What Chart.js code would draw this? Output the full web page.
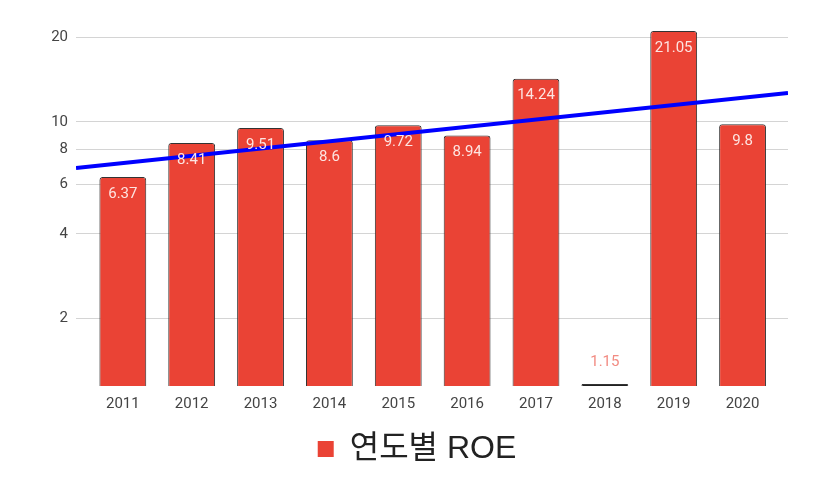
<!DOCTYPE html>
<html>
<head>
<meta charset="utf-8">
<script src="https://cdn.jsdelivr.net/npm/chart.js@4"></script>
<style>
  html, body { margin: 0; padding: 0; background: #fff; }
  #wrap { width: 834px; height: 486px; }
</style>
</head>
<body>
<div id="wrap"><canvas id="roeChart"></canvas></div>
<script>
// 연도별 ROE data
const years = ["2011", "2012", "2013", "2014", "2015", "2016", "2017", "2018", "2019", "2020"]
const roe = [6.37, 8.41, 9.51, 8.6, 9.72, 8.94, 14.24, 1.15, 21.05, 9.8]
const yTicks = [2, 4, 6, 8, 10, 20]
// trendline read at the left and right edges of the plot
const trendX = [-0.68, 9.66]
const trendY = [6.85, 12.66]

const barColor = "#ea4335"
const yMin = Math.min(...roe)
const yMax = Math.max(...roe)

// value labels drawn on the bars
const barLabels = {
  id: "barLabels",
  afterDatasetsDraw(chart) {
    const meta = chart.getDatasetMeta(0)
    const ctx = chart.ctx
    ctx.save()
    ctx.font = "15px Roboto"
    ctx.textAlign = "center"
    ctx.textBaseline = "middle"
    meta.data.forEach((bar, i) => {
      const h = bar.base - bar.y
      if (h > 30) {
        ctx.fillStyle = "#fde4e1"
        ctx.fillText(String(roe[i]), bar.x, bar.y + 17)
      } else {
        ctx.fillStyle = "#f28b82"
        ctx.fillText(String(roe[i]), bar.x, bar.y - 22)
      }
    })
    ctx.restore()
  },
}

new Chart(document.getElementById("roeChart"), {
  data: {
    datasets: [
      {
        type: "bar",
        label: "연도별 ROE",
        data: roe.map((v, i) => ({ x: i, y: v })),
        // a bar sitting on the axis minimum only shows its dark outline
        backgroundColor: (c) => (c.raw && c.raw.y <= yMin ? "#222222" : barColor),
        borderColor: "#333333",
        borderWidth: 1,
        borderRadius: { topLeft: 3, topRight: 3 },
        borderSkipped: "start",
        categoryPercentage: 1,
        barPercentage: 0.68,
        minBarLength: 2,
        order: 2,
      },
      {
        type: "line",
        label: "trend",
        data: trendX.map((x, i) => ({ x: x, y: trendY[i] })),
        borderColor: "#0000ff",
        borderWidth: 4,
        pointRadius: 0,
        order: 1,
      },
    ],
  },
  options: {
    responsive: true,
    maintainAspectRatio: false,
    animation: false,
    layout: { padding: { top: 31, right: 0, left: 0, bottom: 11 } },
    plugins: {
      tooltip: { enabled: false },
      legend: {
        position: "bottom",
        labels: {
          font: { size: 32, family: "'Liberation Sans', 'Noto Sans CJK KR', sans-serif" },
          color: "#222222",
          boxWidth: 16,
          boxHeight: 16,
          padding: 11,
          generateLabels: (chart) => {
            return Chart.defaults.plugins.legend.labels
              .generateLabels(chart)
              .filter((item) => item.datasetIndex === 0)
              .map((item) => Object.assign(item, { fillStyle: barColor, strokeStyle: barColor, lineWidth: 0 }))
          },
        },
      },
    },
    scales: {
      x: {
        type: "linear",
        offset: false,
        min: trendX[0],
        max: trendX[1],
        grid: { display: false, drawTicks: false, offset: false },
        border: { display: false },
        afterBuildTicks: (scale) => {
          scale.ticks = years.map((y, i) => ({ value: i }))
        },
        ticks: {
          font: { size: 15, family: "Roboto" },
          color: "#444444",
          padding: 9,
          autoSkip: false,
          maxRotation: 0,
          callback: (value) => years[value] || "",
        },
      },
      y: {
        type: "logarithmic",
        min: yMin,
        max: yMax,
        grid: { color: "#d4d4d4", lineWidth: 1, drawTicks: false },
        border: { display: false },
        afterFit: (scale) => {
          scale.width = 76
        },
        afterBuildTicks: (scale) => {
          scale.ticks = yTicks.map((v) => ({ value: v }))
        },
        ticks: {
          font: { size: 15, family: "Roboto" },
          color: "#444444",
          padding: 8,
          callback: (value) => String(value),
        },
      },
      // empty right axis, keeps the right margin without shifting the legend
      yRight: {
        type: "linear",
        position: "right",
        grid: { display: false, drawTicks: false },
        border: { display: false },
        ticks: { display: false },
        afterFit: (scale) => {
          scale.width = 46
        },
      },
    },
  },
  plugins: [barLabels],
})
</script>
</body>
</html>
